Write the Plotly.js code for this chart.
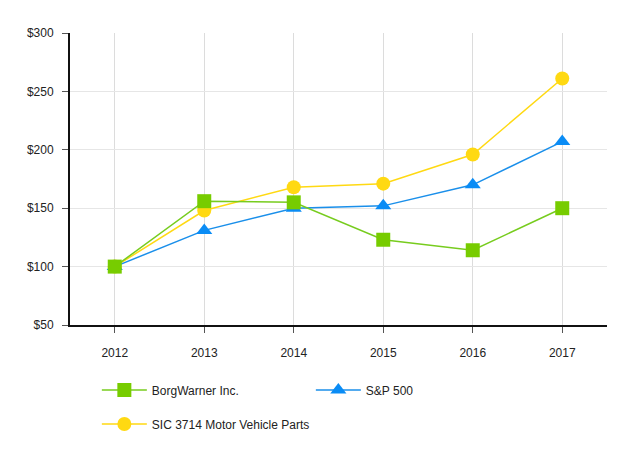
<!DOCTYPE html>
<html>
<head>
<meta charset="utf-8">
<script src="https://cdn.plot.ly/plotly-3.0.1.min.js"></script>
<style>html,body{margin:0;padding:0;background:#fff;}#chart{width:641px;height:461px;}</style>
</head>
<body>
<div id="chart"></div>
<script>
const years = ['2012', '2013', '2014', '2015', '2016', '2017'];
const borgWarner = [100, 156, 155, 123, 114, 150];
const sp500 = [100, 131, 150, 152, 170, 207];
const sic3714 = [100, 148, 168, 171, 196, 261];
const yTickVals = [50, 100, 150, 200, 250, 300];
const yTickText = ['$50', '$100', '$150', '$200', '$250', '$300'];

const traces = [
  {
    x: years, y: sic3714, name: 'SIC 3714 Motor Vehicle Parts', type: 'scatter', mode: 'lines+markers',
    line: {color: '#FFD912', width: 1.5},
    marker: {color: '#FFD912', symbol: 'circle', size: 14},
    legend: 'legend2'
  },
  {
    x: years, y: sp500, name: 'S&P 500', type: 'scatter', mode: 'lines+markers',
    line: {color: '#1A8FEA', width: 1.5},
    marker: {color: '#0A8CF5', symbol: 'triangle-up', size: 14},
    legend: 'legend', legendrank: 2
  },
  {
    x: years, y: borgWarner, name: 'BorgWarner Inc.', type: 'scatter', mode: 'lines+markers',
    line: {color: '#77CC1E', width: 1.5},
    marker: {color: '#77CC00', symbol: 'square', size: 14},
    legend: 'legend', legendrank: 1
  }
];

const layout = {
  width: 641, height: 461,
  margin: {l: 70, r: 34, t: 33, b: 136},
  paper_bgcolor: '#fff', plot_bgcolor: '#fff',
  font: {family: 'Liberation Sans, Arial, sans-serif', size: 12, color: '#222'},
  showlegend: true,
  xaxis: {
    type: 'category', range: [-0.5, 5.5],
    showgrid: true, gridcolor: '#dcdcdc', gridwidth: 1,
    showline: true, linecolor: '#111', linewidth: 2,
    ticks: 'outside', ticklen: 6, tickcolor: '#555', tickwidth: 1,
    ticklabelstandoff: 10,
    zeroline: false, fixedrange: true
  },
  yaxis: {
    range: [50, 300], tickvals: yTickVals, ticktext: yTickText,
    showgrid: true, gridcolor: '#e6e6e6', gridwidth: 1,
    showline: true, linecolor: '#111', linewidth: 2,
    ticks: 'outside', ticklen: 6, tickcolor: '#555', tickwidth: 1,
    ticklabelstandoff: 6,
    zeroline: false, fixedrange: true
  },
  legend: {
    orientation: 'h', x: 0.05, xanchor: 'left', y: -0.223, yanchor: 'middle',
    itemwidth: 45,
    entrywidth: 154, entrywidthmode: 'pixels', traceorder: 'normal',
    font: {size: 12, color: '#222'}
  },
  legend2: {
    orientation: 'h', x: 0.05, xanchor: 'left', y: -0.339, yanchor: 'middle',
    itemwidth: 45,
    font: {size: 12, color: '#222'}
  }
};

Plotly.newPlot('chart', traces, layout, {displayModeBar: false, staticPlot: true});
</script>
</body>
</html>
